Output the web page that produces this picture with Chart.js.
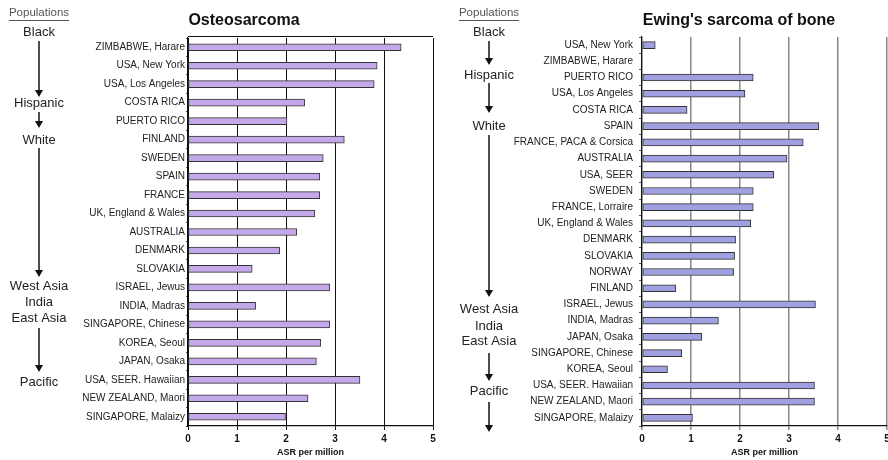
<!DOCTYPE html>
<html>
<head>
<meta charset="utf-8">
<script src="https://cdn.jsdelivr.net/npm/chart.js@4"></script>
<style>
  html, body { margin: 0; padding: 0; background: #fff; overflow: hidden; width: 888px; height: 460px; }
  .box { position: absolute; top: 0; height: 460px; }
</style>
</head>
<body>
<div class="box" style="left:0;width:440px"><canvas id="osteo"></canvas></div>
<div class="box" style="left:440px;width:454px"><canvas id="ewing"></canvas></div>
<script>
// --- data ---
const osteoLabels = [
    "ZIMBABWE, Harare", "USA, New York", "USA, Los Angeles", "COSTA RICA", "PUERTO RICO",
    "FINLAND", "SWEDEN", "SPAIN", "FRANCE", "UK, England & Wales", "AUSTRALIA", "DENMARK",
    "SLOVAKIA", "ISRAEL, Jewus", "INDIA, Madras", "SINGAPORE, Chinese", "KOREA, Seoul",
    "JAPAN, Osaka", "USA, SEER. Hawaiian", "NEW ZEALAND, Maori", "SINGAPORE, Malaizy",
];
const osteoValues = [
    4.35, 3.86, 3.80, 2.38, 2.02,
    3.19, 2.76, 2.69, 2.69, 2.59, 2.22, 1.87,
    1.31, 2.89, 1.38, 2.89, 2.71,
    2.62, 3.51, 2.45, 1.99,
];

const ewingLabels = [
    "USA, New York", "ZIMBABWE, Harare", "PUERTO RICO", "USA, Los Angeles", "COSTA RICA",
    "SPAIN", "FRANCE, PACA & Corsica", "AUSTRALIA", "USA, SEER", "SWEDEN", "FRANCE, Lorraire",
    "UK, England & Wales", "DENMARK", "SLOVAKIA", "NORWAY", "FINLAND", "ISRAEL, Jewus",
    "INDIA, Madras", "JAPAN, Osaka", "SINGAPORE, Chinese", "KOREA, Seoul",
    "USA, SEER. Hawaiian", "NEW ZEALAND, Maori", "SINGAPORE, Malaizy",
];
const ewingValues = [
    0.27, 0, 2.27, 2.10, 0.92,
    3.61, 3.29, 2.96, 2.69, 2.27, 2.27,
    2.22, 1.91, 1.89, 1.87, 0.69, 3.54,
    1.56, 1.22, 0.81, 0.52,
    3.52, 3.52, 1.03,
];

const xTicks = [0, 1, 2, 3, 4, 5];
const xTitle = "ASR per million";
const groupHeading = "Populations";
const groupNames = ["Black", "Hispanic", "White", "West Asia", "India", "East Asia", "Pacific"];

// --- layout of the side annotation column (canvas px) ---
const osteoSide = {
    title: "Osteosarcoma", titleX: 244,
    x: 39, headY: 13,
    textY: [32, 103, 140, 286, 302, 318, 382],
    arrows: [[41, 97], [112, 128], [148, 277], [328, 372]],
};
const ewingSide = {
    title: "Ewing's sarcoma of bone", titleX: 299,
    x: 49, headY: 13,
    textY: [32, 75, 126, 309, 326, 341, 391],
    arrows: [[41, 65], [83, 113], [135, 297], [353, 381], [402, 432]],
};

const FONT = "'Liberation Sans', Arial, sans-serif";

const decor = {
    id: "decor",
    afterDraw(chart, args, opts) {
        const ctx = chart.ctx;
        const s = opts.side;
        const a = chart.chartArea;
        ctx.save();
        // title
        ctx.fillStyle = "#111";
        ctx.font = "bold 16px " + FONT;
        ctx.textAlign = "center";
        ctx.textBaseline = "middle";
        ctx.fillText(s.title, s.titleX, 21);
        // top border
        if (opts.topBorder) {
            ctx.strokeStyle = "#111";
            ctx.lineWidth = 1;
            ctx.beginPath();
            ctx.moveTo(a.left, opts.topBorder + 0.5);
            ctx.lineTo(a.right, opts.topBorder + 0.5);
            ctx.stroke();
        }
        // heading
        ctx.font = "11.5px " + FONT;
        ctx.fillStyle = "#555";
        ctx.fillText(groupHeading, s.x, s.headY);
        const w = ctx.measureText(groupHeading).width;
        ctx.strokeStyle = "#555";
        ctx.lineWidth = 1;
        ctx.beginPath();
        ctx.moveTo(s.x - w / 2, s.headY + 7.5);
        ctx.lineTo(s.x + w / 2, s.headY + 7.5);
        ctx.stroke();
        // group names
        ctx.font = "13px " + FONT;
        ctx.fillStyle = "#222";
        groupNames.forEach((g, i) => ctx.fillText(g, s.x, s.textY[i]));
        // arrows
        ctx.strokeStyle = "#111";
        ctx.fillStyle = "#111";
        ctx.lineWidth = 1.5;
        s.arrows.forEach(([y1, y2]) => {
            ctx.beginPath();
            ctx.moveTo(s.x, y1);
            ctx.lineTo(s.x, y2 - 4);
            ctx.stroke();
            ctx.beginPath();
            ctx.moveTo(s.x - 4, y2 - 7);
            ctx.lineTo(s.x + 4, y2 - 7);
            ctx.lineTo(s.x, y2);
            ctx.closePath();
            ctx.fill();
        });
        ctx.restore();
    },
};

function make(id, labels, values, color, gridColor, gridWidth, yWidth, pad, side, tickLen, tickPad, topBorder) {
    return new Chart(document.getElementById(id), {
        type: "bar",
        data: {
            labels,
            datasets: [{
                data: values,
                backgroundColor: color,
                borderColor: "#333",
                borderWidth: 1,
                borderSkipped: false,
                barThickness: 7,
            }],
        },
        options: {
            responsive: true,
            maintainAspectRatio: false,
            animation: false,
            indexAxis: "y",
            layout: { padding: pad },
            plugins: {
                legend: { display: false },
                tooltip: { enabled: false },
                decor: { side, topBorder },
            },
            scales: {
                x: {
                    min: 0, max: 5,
                    afterBuildTicks: (sc) => { sc.ticks = xTicks.map(v => ({ value: v })); },
                    afterFit: (sc) => { sc.height = 33; },
                    grid: { color: gridColor, lineWidth: gridWidth, tickLength: 4, drawTicks: true },
                    border: { color: "#111", width: 1.2 },
                    ticks: { color: "#111", font: { family: FONT, size: 10, weight: "bold" }, padding: 3 },
                    title: {
                        display: true, text: xTitle, color: "#111",
                        font: { family: FONT, size: 9, weight: "bold" }, padding: { top: 0, bottom: 1 },
                    },
                },
                y: {
                    afterFit: (sc) => { sc.width = yWidth; },
                    grid: { offset: true, drawOnChartArea: false, tickLength: tickLen, color: "#555" },
                    border: { color: "#111", width: 1.2 },
                    ticks: { color: "#222", font: { family: FONT, size: 10 }, padding: tickPad, autoSkip: false },
                },
            },
        },
        plugins: [decor],
    });
}

make("osteo", osteoLabels, osteoValues, "#c3a8ea", "#111", 1, 188,
    { top: 38, right: 7, left: 0, bottom: 1 }, osteoSide, 2, 1, 36);
make("ewing", ewingLabels, ewingValues, "#a0a0e0", "#888", 1.5, 202,
    { top: 37, right: 7, left: 0, bottom: 1 }, ewingSide, 3, 6, 0);
</script>
</body>
</html>
